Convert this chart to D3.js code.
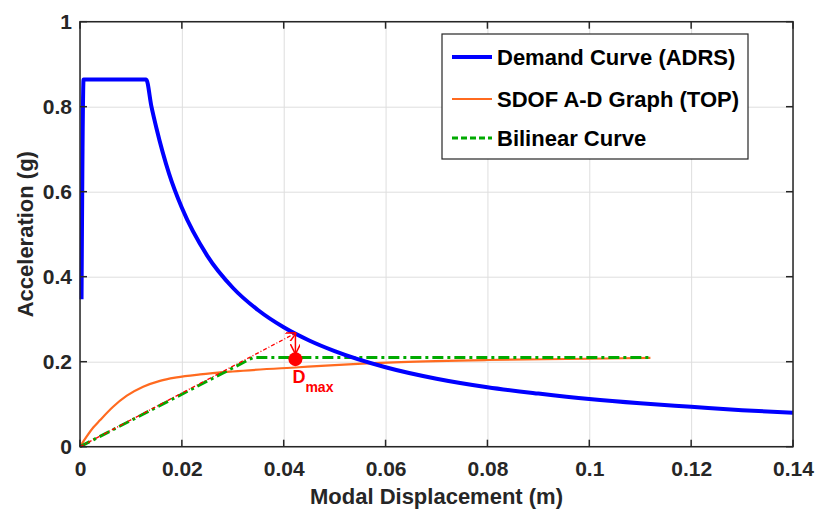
<!DOCTYPE html>
<html>
<head>
<meta charset="utf-8">
<script src="https://cdnjs.cloudflare.com/ajax/libs/d3/7.8.5/d3.min.js"></script>
<style>
  body { margin: 0; background: #fff; }
  text { font-family: "Liberation Sans", Arial, sans-serif; font-weight: bold; fill: #262626; }
  .grid line { stroke: #dedede; stroke-width: 1; }
  .grid path { display: none; }
</style>
</head>
<body>
<script>
// demand curve (ADRS)
var demandD = [0.0003, 0.0007, 0.013, 0.014, 0.015, 0.0175, 0.02, 0.025, 0.03, 0.035, 0.04, 0.045, 0.05, 0.06, 0.07, 0.08, 0.09, 0.1, 0.11, 0.12, 0.13, 0.14];
var demandA = [0.347, 0.864, 0.864, 0.802, 0.75, 0.642, 0.562, 0.449, 0.374, 0.321, 0.281, 0.25, 0.225, 0.187, 0.16, 0.14, 0.125, 0.112, 0.102, 0.094, 0.086, 0.080];
// SDOF A-D graph (TOP)
var sdofD = [0, 0.0026, 0.0039, 0.0065, 0.0092, 0.0124, 0.0157, 0.019, 0.0236, 0.03, 0.043, 0.05, 0.063, 0.08, 0.1, 0.112];
var sdofA = [0, 0.045, 0.062, 0.094, 0.12, 0.141, 0.155, 0.163, 0.17, 0.177, 0.187, 0.192, 0.199, 0.204, 0.207, 0.209];
// bilinear curve
var bilinD = [0, 0.034, 0.112];
var bilinA = [0, 0.21, 0.21];
// performance point
var perfD = 0.0423;
var perfDemandA = 0.267;
var perfA = 0.206;

var xTicks = [0, 0.02, 0.04, 0.06, 0.08, 0.1, 0.12, 0.14];
var yTicks = [0, 0.2, 0.4, 0.6, 0.8, 1];
var legendLabels = ["Demand Curve (ADRS)", "SDOF A-D Graph (TOP)", "Bilinear Curve"];

var width = 816, height = 512;
var margin = {left: 80, right: 23, top: 21.7, bottom: 65.3};
var w = width - margin.left - margin.right;
var h = height - margin.top - margin.bottom;

var x = d3.scaleLinear().domain([0, 0.14]).range([0, w]);
var y = d3.scaleLinear().domain([0, 1]).range([h, 0]);

var svg = d3.select("body").append("svg").attr("width", width).attr("height", height);

var defs = svg.append("defs");
defs.append("marker").attr("id", "arrow")
    .attr("viewBox", "0 0 10 10").attr("refX", 9).attr("refY", 5)
    .attr("markerWidth", 10).attr("markerHeight", 10)
    .attr("markerUnits", "userSpaceOnUse")
    .attr("orient", "auto")
  .append("path").attr("d", "M0,0 L10,5 L0,10").attr("fill", "none")
    .attr("stroke", "#ff0000").attr("stroke-width", 1.5);

var chartGroup = svg.append("g").attr("transform", "translate(" + margin.left + "," + margin.top + ")");

// grid
chartGroup.append("g").attr("class", "grid").attr("transform", "translate(0," + h + ")")
  .call(d3.axisBottom(x).tickValues(xTicks).tickSize(-h).tickFormat(""));
chartGroup.append("g").attr("class", "grid")
  .call(d3.axisLeft(y).tickValues(yTicks).tickSize(-w).tickFormat(""));

// lines
function mkLine(curve) {
  return d3.line().x(function(d){ return x(d[0]); }).y(function(d){ return y(d[1]); }).curve(curve);
}
var demand = d3.zip(demandD, demandA);
var sdof = d3.zip(sdofD, sdofA);
var bilin = d3.zip(bilinD, bilinA);

chartGroup.append("path").attr("d", mkLine(d3.curveMonotoneX)(sdof))
  .attr("fill", "none").attr("stroke", "#ff6a1f").attr("stroke-width", 2.2);

chartGroup.append("path").attr("d", mkLine(d3.curveLinear)(bilin))
  .attr("fill", "none").attr("stroke", "#00aa00").attr("stroke-width", 3)
  .attr("stroke-dasharray", "11,4,3,4");

chartGroup.append("path").attr("d", mkLine(d3.curveMonotoneX)(demand))
  .attr("fill", "none").attr("stroke", "#0000ff").attr("stroke-width", 4)
  .attr("stroke-linejoin", "miter");

// red construction arrows
chartGroup.append("line")
  .attr("x1", x(0)).attr("y1", y(0)).attr("x2", x(perfD)).attr("y2", y(perfDemandA))
  .attr("stroke", "#ff0000").attr("stroke-width", 1.3).attr("stroke-dasharray", "4,2,1,2")
  .attr("marker-end", "url(#arrow)");
chartGroup.append("line")
  .attr("x1", x(perfD)).attr("y1", y(perfDemandA)).attr("x2", x(perfD)).attr("y2", y(perfA) - 6)
  .attr("stroke", "#ff0000").attr("stroke-width", 1.5)
  .attr("marker-end", "url(#arrow)");
chartGroup.append("circle").attr("cx", x(perfD)).attr("cy", y(perfA)).attr("r", 7).attr("fill", "#ff0000");

var dmax = chartGroup.append("text").attr("x", x(perfD) - 3).attr("y", y(perfA) + 24)
  .style("fill", "#ff0000").style("font-size", "18px");
dmax.append("tspan").text("D");
dmax.append("tspan").attr("dy", 9).style("font-size", "14px").text("max");

// axes
var xAxis = d3.axisBottom(x).tickValues(xTicks).tickSize(0).tickPadding(14).tickFormat(d3.format("~g"));
var yAxis = d3.axisLeft(y).tickValues(yTicks).tickSize(0).tickPadding(8).tickFormat(d3.format("~g"));
var gx = chartGroup.append("g").attr("class", "x axis").attr("transform", "translate(0," + h + ")").call(xAxis);
var gy = chartGroup.append("g").attr("class", "y axis").call(yAxis);
[gx, gy].forEach(function(g){
  g.selectAll("text").style("font-size", "21px").style("fill", "#262626")
    .style("font-family", "'Liberation Sans', Arial, sans-serif").style("font-weight", "bold");
  g.select("path").remove();
});
gx.selectAll("text").attr("dy", "0.71em");

chartGroup.append("rect").attr("width", w).attr("height", h)
  .attr("fill", "none").attr("stroke", "#262626").attr("stroke-width", 1.5);

// inward ticks on all four sides
var tk = 7;
xTicks.forEach(function(t){
  chartGroup.append("line").attr("x1", x(t)).attr("x2", x(t)).attr("y1", h).attr("y2", h - tk).attr("stroke", "#262626").attr("stroke-width", 1.5);
  chartGroup.append("line").attr("x1", x(t)).attr("x2", x(t)).attr("y1", 0).attr("y2", tk).attr("stroke", "#262626").attr("stroke-width", 1.5);
});
yTicks.forEach(function(t){
  chartGroup.append("line").attr("x1", 0).attr("x2", tk).attr("y1", y(t)).attr("y2", y(t)).attr("stroke", "#262626").attr("stroke-width", 1.5);
  chartGroup.append("line").attr("x1", w).attr("x2", w - tk).attr("y1", y(t)).attr("y2", y(t)).attr("stroke", "#262626").attr("stroke-width", 1.5);
});

// axis titles
svg.append("text").attr("x", margin.left + w / 2).attr("y", 504)
  .style("text-anchor", "middle").style("font-size", "22px").text("Modal Displacement (m)");
svg.append("text").attr("transform", "translate(33," + (margin.top + h / 2) + ") rotate(-90)")
  .style("text-anchor", "middle").style("font-size", "22px").text("Acceleration (g)");

// legend
var legend = svg.append("g").attr("transform", "translate(442,34)");
legend.append("rect").attr("width", 306).attr("height", 125)
  .attr("fill", "#fff").attr("stroke", "#262626").attr("stroke-width", 1.2);
var legStyles = [
  {stroke: "#0000ff", sw: 4, dash: null},
  {stroke: "#ff6a1f", sw: 2.2, dash: null},
  {stroke: "#00aa00", sw: 3, dash: "6,3"}
];
var rowY = [23, 65, 104];
legendLabels.forEach(function(lab, i){
  legend.append("line").attr("x1", 10).attr("x2", 50).attr("y1", rowY[i]).attr("y2", rowY[i])
    .attr("stroke", legStyles[i].stroke).attr("stroke-width", legStyles[i].sw)
    .attr("stroke-dasharray", legStyles[i].dash);
  legend.append("text").attr("x", 55).attr("y", rowY[i] + 8).style("font-size", "22px")
    .style("fill", "#000").text(lab);
});
</script>
</body>
</html>
